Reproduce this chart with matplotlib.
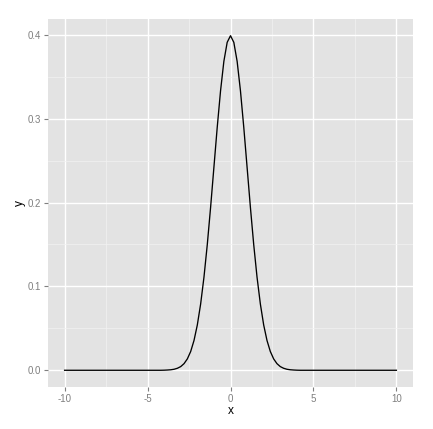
import matplotlib
matplotlib.use('Agg')
import matplotlib.pyplot as plt
from matplotlib.ticker import MultipleLocator, FixedLocator

# curve (flat at zero outside |x| > 4)
xs = [-10.0, -4.2, -4.0, -3.8, -3.6, -3.4, -3.2, -3.0, -2.8, -2.6, -2.4, -2.2,
      -2.0, -1.8, -1.6, -1.4, -1.2, -1.0, -0.8, -0.6, -0.4, -0.2, 0.0,
      0.2, 0.4, 0.6, 0.8, 1.0, 1.2, 1.4, 1.6, 1.8, 2.0, 2.2, 2.4, 2.6,
      2.8, 3.0, 3.2, 3.4, 3.6, 3.8, 4.0, 4.2, 10.0]
ys = [0.0, 0.0, 0.0001, 0.0003, 0.0006, 0.0012, 0.0024, 0.0044, 0.0079, 0.0136,
      0.0224, 0.0355, 0.0540, 0.0790, 0.1109, 0.1497, 0.1942, 0.2420, 0.2897,
      0.3332, 0.3683, 0.3910, 0.3989, 0.3910, 0.3683, 0.3332, 0.2897, 0.2420,
      0.1942, 0.1497, 0.1109, 0.0790, 0.0540, 0.0355, 0.0224, 0.0136, 0.0079,
      0.0044, 0.0024, 0.0012, 0.0006, 0.0003, 0.0001, 0.0, 0.0]
xticks = [-10, -5, 0, 5, 10]
yticks = [0.0, 0.1, 0.2, 0.3, 0.4]
ytick_labels = ['0.0', '0.1', '0.2', '0.3', '0.4']

plt.rcParams['font.family'] = ['Liberation Sans', 'DejaVu Sans']

fig = plt.figure(figsize=(4.33, 4.29), dpi=100)
ax = fig.add_axes([48 / 433, 1 - 387 / 429, 365 / 433, 368 / 429])
ax.set_facecolor('#E3E3E3')

ax.plot(xs, ys, color='black', linewidth=0.95, zorder=3)

ax.set_xlim(-11, 11)
ax.set_ylim(-0.01995, 0.4188)
ax.xaxis.set_major_locator(FixedLocator(xticks))
ax.xaxis.set_minor_locator(MultipleLocator(2.5))
ax.yaxis.set_major_locator(FixedLocator(yticks))
ax.yaxis.set_minor_locator(MultipleLocator(0.05))
ax.set_xticklabels([str(t) for t in xticks])
ax.set_yticklabels(ytick_labels)

ax.grid(which='major', color='white', linewidth=1.0)
ax.grid(which='minor', color='#F2F2F2', linewidth=0.5)
ax.set_axisbelow(True)
for s in ax.spines.values():
    s.set_visible(False)

ax.tick_params(which='major', direction='out', length=3, width=0.8,
               color='#7F7F7F', labelcolor='#7F7F7F', labelsize=7, pad=2)
ax.tick_params(which='minor', length=0)

ax.set_xlabel('x', fontsize=8.6, labelpad=1)
ax.set_ylabel('y', fontsize=8.6, labelpad=1)

fig.savefig('out.png', dpi=100, facecolor='white')
